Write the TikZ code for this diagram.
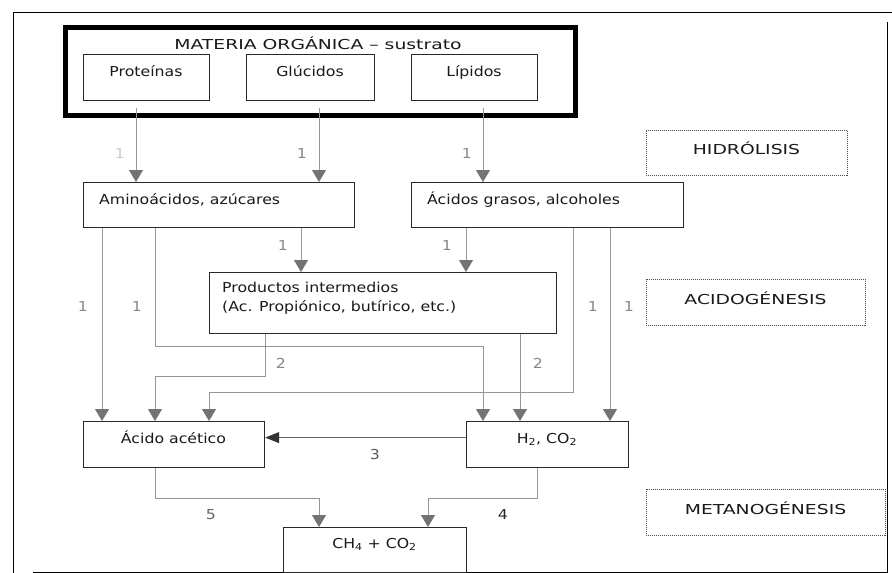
\documentclass[tikz,border=0pt]{standalone}
\usepackage{fontspec}
\setmainfont{DejaVu Sans}[FakeStretch=1.15]
\newfontfamily\capsfamily{DejaVu Sans}[FakeStretch=1.37]
\usetikzlibrary{arrows.meta,calc}
\newcommand\bodyf{\fontsize{13.7}{16.5}\selectfont}
\newcommand\capsf{\capsfamily\fontsize{13.7}{16.5}\selectfont}
\definecolor{linegray}{RGB}{150,150,150}
\definecolor{headgray}{RGB}{115,115,115}
\definecolor{boxline}{RGB}{40,40,40}
\definecolor{numgray}{RGB}{135,135,135}
\tikzset{
  box/.style={draw=boxline, line width=1.2pt, inner sep=0, anchor=north west},
  stagebox/.style={draw=black!70, line width=0.8pt, dash pattern=on 1pt off 1pt, inner sep=0, anchor=north west},
  txt/.style={inner sep=0, anchor=base, font=\bodyf, text=black!90},
  capstxt/.style={inner sep=0, anchor=base, font=\capsf, text=black!90},
  num/.style={inner sep=0, anchor=base, font=\bodyf, text=numgray},
  conn/.style={draw=linegray, line width=1pt},
  arr/.style={conn, -{Triangle[length=12pt,width=14pt,color=headgray]}},
  darkarr/.style={draw=black!60, line width=1pt, -{Triangle[length=14pt,width=11pt,color=black!80]}},
}
\begin{document}
\begin{tikzpicture}[x=1pt,y=-1pt]
\useasboundingbox (0,0) rectangle (892,573);
% outer frame
\draw[line width=1pt] (13,573) -- (13,12) -- (892,12);
\draw[line width=1pt] (887,22) -- (887,573);
\draw[line width=1pt] (33,572) -- (887,572);

% thick container
\node[box, draw=black, line width=5pt, minimum width=509.5, minimum height=88.5] (mo) at (63,24.5) {};
\node[capstxt] (moT) at (318,49) {MATERIA ORGÁNICA – sustrato};

% boxes
\node[box, minimum width=126, minimum height=46] (prot) at (83,54) {};
\node[box, minimum width=128, minimum height=46] (glu) at (246,54) {};
\node[box, minimum width=126, minimum height=46] (lip) at (411,54) {};
\node[box, minimum width=271, minimum height=45] (amino) at (83,182) {};
\node[box, minimum width=272, minimum height=45] (acgr) at (411,182) {};
\node[box, minimum width=347, minimum height=61] (prod) at (209,272) {};
\node[box, minimum width=181, minimum height=46] (acet) at (83,421) {};
\node[box, minimum width=162, minimum height=46] (h2) at (466,421) {};
\node[box, minimum width=183, minimum height=45] (ch4) at (283,527) {};

\node[stagebox, minimum width=201, minimum height=45] (hid) at (646,130) {};
\node[stagebox, minimum width=219, minimum height=46] (acid) at (646,279) {};
\node[stagebox, minimum width=239, minimum height=46] (met) at (646,489) {};

% texts
\node[txt] (protT) at (146,76) {Proteínas};
\node[txt] (gluT) at (310,76) {Glúcidos};
\node[txt] (lipT) at (474,76) {Lípidos};
\node[txt, anchor=base west] (aminoT) at (99,204) {Aminoácidos, azúcares};
\node[txt, anchor=base west] (acgrT) at (427,204) {Ácidos grasos, alcoholes};
\node[txt, anchor=base west] (prodT1) at (222,292) {Productos intermedios};
\node[txt, anchor=base west] (prodT2) at (222,311) {(Ac. Propiónico, butírico, etc.)};
\node[txt] (acetT) at (173.5,443) {Ácido acético};
\node[txt] (h2T) at (547,443) {H\textsubscript{2}, CO\textsubscript{2}};
\node[txt] (ch4T) at (374.5,548) {CH\textsubscript{4} + CO\textsubscript{2}};
\node[capstxt] (hidT) at (746.5,154) {HIDRÓLISIS};
\node[capstxt] (acidT) at (755.5,304) {ACIDOGÉNESIS};
\node[capstxt] (metT) at (765.5,514) {METANOGÉNESIS};

% connectors
\draw[arr] ($(prot.south west)+(53,7)$) -- ($(amino.north west)+(53,0)$);
\draw[arr] ($(glu.south west)+(73,7)$) -- ($(amino.north west)+(236,0)$);
\draw[arr] ($(lip.south west)+(72,7)$) -- ($(acgr.north west)+(72,0)$);
\draw[arr] ($(amino.south west)+(218,0)$) -- ($(prod.north west)+(92,0)$);
\draw[arr] ($(acgr.south west)+(55,0)$) -- ($(prod.north west)+(257,0)$);
\draw[arr] ($(amino.south west)+(19,0)$) -- ($(acet.north west)+(19,0)$);
\draw[arr] ($(amino.south west)+(72,0)$) |- ($(h2.north west)+(17,-75)$) -- ($(h2.north west)+(17,0)$);
\draw[arr] ($(prod.south west)+(56,0)$) -- +(0,42) -| ($(acet.north west)+(72,0)$);
\draw[arr] ($(prod.south west)+(311,0)$) -- ($(h2.north west)+(54,0)$);
\draw[arr] ($(acgr.south west)+(162,0)$) -- +(0,164) -| ($(acet.north west)+(126,0)$);
\draw[arr] ($(acgr.south west)+(199,0)$) -- ($(h2.north west)+(144,0)$);
\draw[darkarr] ($(h2.west)+(0,-7)$) -- ($(acet.east)+(0,-7)$);
\draw[arr] ($(acet.south west)+(72,0)$) -- +(0,30) -| ($(ch4.north west)+(36,0)$);
\draw[arr] ($(h2.south west)+(71,0)$) -- +(0,30) -| ($(ch4.north west)+(145,0)$);

% numbers
\node[num, text=black!20] (n1) at (120,158) {1};
\node[num] (n2) at (302,158) {1};
\node[num] (n3) at (467,158) {1};
\node[num] (n4) at (283,250) {1};
\node[num] (n5) at (447,250) {1};
\node[num] (n6) at (83,311) {1};
\node[num] (n7) at (137,311) {1};
\node[num] (n8) at (593,311) {1};
\node[num] (n9) at (629,311) {1};
\node[num] (n10) at (281,368) {2};
\node[num] (n11) at (538,368) {2};
\node[num, text=black!65] (n12) at (375,459) {3};
\node[num, text=black!60] (n13) at (211,519) {5};
\node[num, text=black!85] (n14) at (503,519) {4};
\end{tikzpicture}
\end{document}
